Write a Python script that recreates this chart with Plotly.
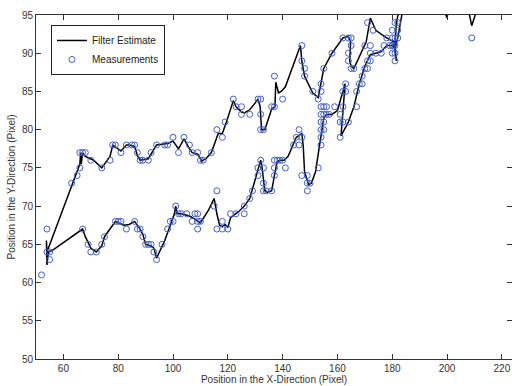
import plotly.graph_objects as go

# Filter estimate trajectory (x, y) in drawing order
filter_path = [
    (183, 96.5), (181.5, 94), (181, 91), (181.5, 89), (180.5, 91.5), (177.5, 92.1),
    (174, 93), (172, 94.6), (170.5, 91.5), (168, 89.5), (166, 88), (165, 88.3),
    (164.5, 89), (164.8, 91.5), (164, 92.2), (162, 92), (158, 90), (155, 88),
    (153, 84.2), (151, 84.8), (148, 87), (147, 89), (146.5, 91), (141, 85.6),
    (139.5, 85), (138.5, 84.8), (137.5, 86.2), (137.2, 83), (136, 82.7),
    (133.5, 80), (132.3, 80), (131.8, 83), (131, 84), (130, 83.5), (128, 82.6),
    (126, 82.2), (125, 82.3), (123, 83), (122, 83.8), (119.5, 81), (118, 79.5),
    (116.5, 79.5), (114, 77), (112, 76.2), (110.5, 75.9), (109, 76.8), (107, 77),
    (106, 77.5), (104, 78.8), (102, 77.5), (100, 78.5), (98, 78.2), (95, 78),
    (94, 78), (91, 76.2), (89, 76), (88, 76), (87, 76.6), (86, 77.8), (84, 78),
    (83, 78), (81, 77.2), (79, 77.8), (78, 78), (77, 76.5), (74, 75), (71, 76),
    (68, 76.5), (67, 77), (66.5, 75.5), (66.3, 77), (66, 75.5), (54, 64),
    (53.8, 65.5), (54, 62.3), (54.5, 64), (56, 64.2), (67, 67), (68, 66),
    (70, 64.5), (72, 64), (74, 64.8), (75, 66), (77, 67), (79, 68), (82, 67.5),
    (84, 67.6), (86, 68), (88, 67), (89, 66.3), (90, 65), (92, 64.8), (93, 64.5),
    (94, 63.2), (97, 65.5), (99, 67.5), (100.5, 69), (101, 70), (101.5, 69),
    (103, 69), (106, 68.7), (108, 68.3), (109, 68), (110, 67.8), (113, 69.5),
    (115, 71), (116, 69), (117, 67.5), (118, 67.3), (119, 67.6), (120, 67.2),
    (121, 68.5), (124, 69.3), (126, 70), (128, 71), (130, 73.5), (132, 76),
    (132.5, 75), (133, 73.5), (133.5, 72), (134.5, 71.8), (136, 72), (137, 74),
    (138, 75.8), (139, 76), (140.5, 76), (142, 76.5), (145, 79), (147, 79.5),
    (147.5, 78), (148, 74.5), (149.5, 72.8), (150.5, 73), (152, 74.5),
    (153.5, 78), (154.5, 80.5), (155, 81.5), (156, 82), (158, 82), (160, 82.5),
    (162.8, 86), (161.3, 79.2), (164, 81), (166, 83), (168, 86), (170, 88.3),
    (172, 89.8), (174, 90), (176, 90.2), (178, 91), (180, 91), (181, 90.5),
    (182, 92), (184, 96), (190, 100), (199, 95.5), (200, 94.6), (201, 97),
    (207, 97), (209, 93.6), (211, 95.8), (215, 99),
]

# Measurements along the upper branch
meas_upper = [
    (52, 61), (54, 67), (55, 63), (54, 64), (55, 64), (63, 73), (65, 74), (66, 75),
    (66, 77), (67, 77), (68, 77), (70, 76), (74, 75), (77, 76), (78, 78), (79, 78),
    (81, 77), (83, 78), (85, 78), (86, 78), (87, 77), (88, 76), (89, 76), (91, 76),
    (92, 77), (94, 78), (97, 78), (98, 78), (100, 79), (102, 77), (104, 79),
    (106, 78), (107, 77), (109, 77), (110, 76), (111, 76), (114, 77), (116, 80),
    (118, 79), (119, 81), (122, 84), (123, 83), (125, 83), (125, 82), (128, 82),
    (131, 84), (132, 84), (132, 82), (132, 80), (133, 80), (136, 83), (137, 83),
    (137, 87), (140, 84), (147, 91), (147, 89), (148, 88), (148, 87), (151, 85),
    (153, 84), (154, 86), (154, 85), (155, 88), (158, 90), (162, 92), (164, 92),
    (165, 92), (165, 91), (164, 90), (164, 89), (165, 88), (166, 88), (170, 91),
    (171, 94), (172, 91), (173, 93), (178, 92),
]

# Measurements along the lower branch
meas_lower = [
    (67, 67), (69, 65), (70, 64), (72, 64), (74, 65), (75, 66), (79, 68), (80, 68),
    (81, 68), (83, 67), (86, 68), (87, 67), (88, 67), (89, 66), (90, 65), (91, 65),
    (92, 65), (93, 64), (94, 63), (96, 65), (98, 67), (99, 68), (100, 68),
    (101, 70), (102, 69), (103, 69), (105, 69), (107, 68), (108, 69), (109, 69),
    (109, 68), (109, 67), (110, 68), (115, 70), (116, 72), (116, 67), (118, 68),
    (118, 67), (120, 67), (121, 69), (123, 69), (126, 70), (126, 69), (128, 71),
    (129, 72), (131, 74), (131, 75), (132, 76), (133, 75), (133, 73), (133, 72),
    (134, 72), (136, 72), (137, 76), (137, 75), (137, 74), (138, 76), (139, 76),
    (140, 76), (141, 75), (144, 78), (145, 79), (146, 80), (146, 78), (147, 79),
    (147, 74), (149, 74), (149, 73), (149, 72), (150, 73), (153, 75), (154, 78),
    (154, 79), (154, 80), (155, 80), (154, 81), (155, 81), (154, 82), (155, 82),
    (156, 82), (157, 82), (154, 83), (155, 83), (156, 83), (159, 83), (161, 79),
    (161, 82), (161, 81), (162, 81), (162, 85), (162, 83), (163, 85), (163, 86),
    (164, 81), (167, 83), (167, 85), (168, 86), (169, 86), (169, 87), (170, 88),
    (171, 89), (171, 88), (172, 89), (172, 90), (174, 90), (176, 90), (177, 91),
    (179, 91), (180, 91), (181, 94), (182, 94), (180, 93), (182, 93), (180, 92),
    (181, 92), (182, 92), (180, 91), (181, 91), (180, 90), (181, 90), (181, 89),
    (209, 92),
]

x_ticks = [60, 80, 100, 120, 140, 160, 180, 200, 220]
y_ticks = [50, 55, 60, 65, 70, 75, 80, 85, 90, 95]

fx = [p[0] for p in filter_path]
fy = [p[1] for p in filter_path]
meas = meas_upper + meas_lower
mx = [p[0] for p in meas]
my = [p[1] for p in meas]

fig = go.Figure()
fig.add_trace(go.Scatter(
    x=fx, y=fy, mode="lines", name="Filter Estimate",
    line=dict(color="black", width=1.5),
))
fig.add_trace(go.Scatter(
    x=mx, y=my, mode="markers", name="Measurements",
    marker=dict(symbol="circle-open", size=6, color="#3f5fcf", line=dict(width=1)),
))

axis_common = dict(
    showgrid=False, zeroline=False, showline=True, linecolor="#333", linewidth=1,
    mirror="ticks", ticks="inside", ticklen=5, tickcolor="#333",
    tickfont=dict(family="Liberation Sans, Arial", size=10, color="#333"),
)
fig.update_layout(
    width=512, height=386,
    margin=dict(l=36, r=0, t=15, b=27),
    paper_bgcolor="white", plot_bgcolor="white",
    font=dict(family="Liberation Sans, Arial", size=10, color="#333"),
    xaxis=dict(range=[50, 223.7], tickvals=x_ticks,
               title=dict(text="Position in the X-Direction (Pixel)", standoff=2,
                          font=dict(size=10)), **axis_common),
    yaxis=dict(range=[50, 95], tickvals=y_ticks,
               title=dict(text="Position in the Y-Direction (Pixel)", standoff=4,
                          font=dict(size=10)), **axis_common),
    legend=dict(x=0.0315, y=0.971, xanchor="left", yanchor="top",
                bgcolor="white", bordercolor="#222", borderwidth=1,
                font=dict(size=10, color="#222"), tracegroupgap=0, itemwidth=30),
    showlegend=True,
)
fig.write_html("out.html", config={"displayModeBar": False},
               post_script="document.body.style.margin='0';")
